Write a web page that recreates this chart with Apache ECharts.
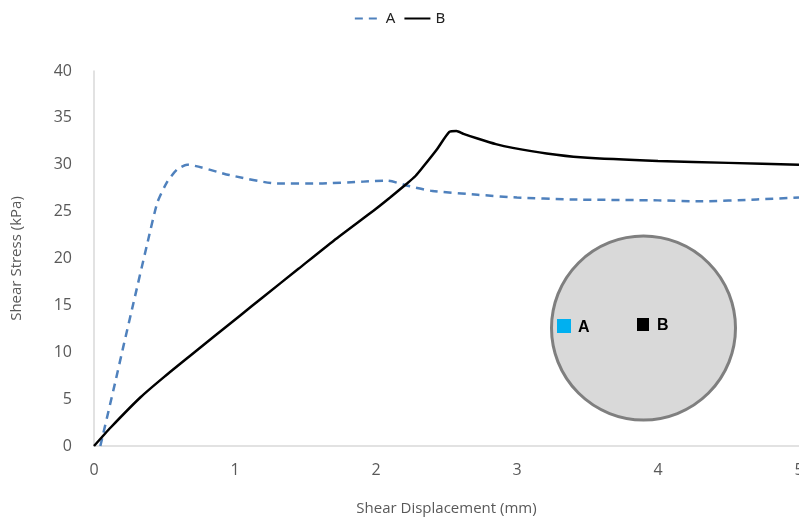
<!DOCTYPE html>
<html><head><meta charset="utf-8">
<script src="https://cdn.jsdelivr.net/npm/echarts@6/dist/echarts.min.js"></script>
<style>html,body{margin:0;padding:0;background:#fff}#c{width:799px;height:522px}</style>
</head><body><div id="c"></div>
<script>
const seriesNames = ['A', 'B'];
const xA = [0.045, 0.149, 0.208, 0.279, 0.375, 0.45, 0.52, 0.59, 0.66, 0.96, 1.3, 1.6, 1.91, 2.08, 2.24, 2.4, 2.72, 3.0, 3.38, 4.0, 4.3, 4.7, 5.0];
const yA = [0, 6.7, 10.6, 15.2, 21.4, 26, 28.2, 29.5, 30, 28.9, 28, 28, 28.2, 28.3, 27.7, 27.2, 26.8, 26.5, 26.3, 26.2, 26.1, 26.3, 26.5];
const xB = [0, 0.12, 0.33, 0.5, 0.68, 1.035, 1.2, 1.45, 1.7, 2.0, 2.1, 2.22, 2.28, 2.33, 2.43, 2.52, 2.57, 2.62, 2.72, 2.85, 2.97, 3.21, 3.45, 4.0, 4.5, 5.0];
const yB = [0, 2.0, 5.2, 7.4, 9.6, 13.9, 15.9, 18.9, 21.9, 25.3, 26.5, 28.0, 28.8, 29.7, 31.6, 33.5, 33.6, 33.3, 32.8, 32.2, 31.8, 31.2, 30.8, 30.4, 30.2, 30.0];
const xTicks = [0, 1, 2, 3, 4, 5];
const yTicks = [0, 5, 10, 15, 20, 25, 30, 35, 40];
const insetLabels = ['A', 'B'];

const chart = echarts.init(document.getElementById('c'));
const font = '"Open Sans", "Noto Sans", sans-serif';
chart.setOption({
  animation: false,
  grid: { left: 94, right: 0, top: 71, bottom: 76, containLabel: false, outerBoundsMode: 'none' },
  legend: {
    top: 6, left: 'center', itemWidth: 26, itemGap: 8,
    itemStyle: { opacity: 0 },
    textStyle: { fontFamily: '"Liberation Sans Narrow", "Noto Sans", sans-serif', fontSize: 15, color: '#222' },
    data: seriesNames
  },
  xAxis: {
    type: 'value', min: xTicks[0], max: xTicks[xTicks.length - 1], interval: 1,
    name: 'Shear Displacement (mm)', nameLocation: 'middle', nameGap: 55,
    nameTextStyle: { fontFamily: font, fontSize: 15, color: '#595959' },
    axisLine: { lineStyle: { color: '#d9d9d9', width: 1.5 } },
    axisTick: { show: false }, splitLine: { show: false },
    axisLabel: { fontFamily: font, fontSize: 16, color: '#595959', margin: 16 }
  },
  yAxis: {
    type: 'value', min: yTicks[0], max: yTicks[yTicks.length - 1], interval: 5,
    name: 'Shear Stress (kPa)', nameLocation: 'middle', nameGap: 70,
    nameTextStyle: { fontFamily: font, fontSize: 15, color: '#595959' },
    axisLine: { show: true, lineStyle: { color: '#d9d9d9', width: 1.5 } },
    axisTick: { show: false }, splitLine: { show: false },
    axisLabel: { fontFamily: font, fontSize: 16, color: '#595959', margin: 22 }
  },
  series: [
    { name: seriesNames[0], type: 'line', smooth: 0.2, symbol: 'none',
      lineStyle: { color: '#4f81bd', width: 2.5, type: [8, 6] },
      itemStyle: { color: '#4f81bd' },
      data: xA.map((x, i) => [x, yA[i]]) },
    { name: seriesNames[1], type: 'line', smooth: 0.2, symbol: 'none',
      lineStyle: { color: '#000', width: 2.5 },
      itemStyle: { color: '#000' },
      data: xB.map((x, i) => [x, yB[i]]) }
  ],
  graphic: [
    { type: 'circle', shape: { cx: 643.5, cy: 328, r: 92 },
      style: { fill: '#d9d9d9', stroke: '#7f7f7f', lineWidth: 3 }, z: 0 },
    { type: 'rect', shape: { x: 557, y: 319, width: 14, height: 14 }, style: { fill: '#00b0f0' } },
    { type: 'text', x: 578, y: 320, style: { text: insetLabels[0], fontFamily: '"Liberation Sans", sans-serif', fontWeight: 'bold', fontSize: 16, fill: '#000' } },
    { type: 'rect', shape: { x: 637, y: 318, width: 12, height: 13 }, style: { fill: '#000' } },
    { type: 'text', x: 657, y: 318, style: { text: insetLabels[1], fontFamily: '"Liberation Sans", sans-serif', fontWeight: 'bold', fontSize: 16, fill: '#000' } }
  ]
});
</script></body></html>
